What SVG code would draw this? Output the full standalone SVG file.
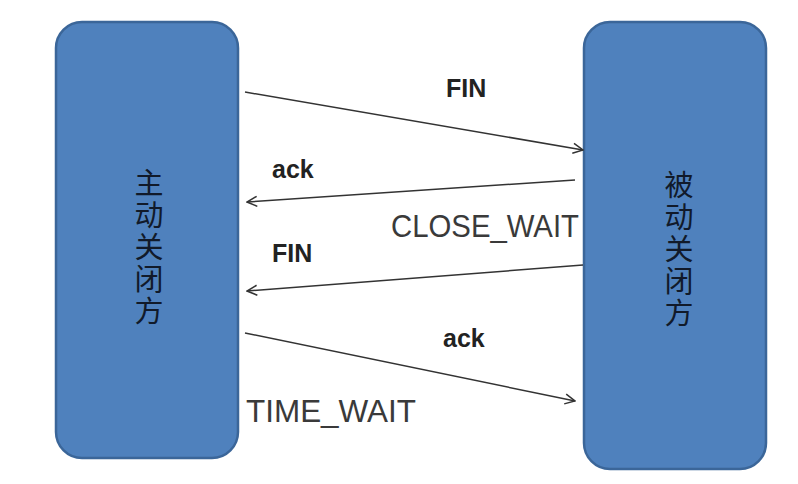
<svg xmlns="http://www.w3.org/2000/svg" width="798" height="484" viewBox="0 0 798 484">
<style>
.box{fill:#4F81BD;stroke:#3B6699;stroke-width:2.5}
.cjk{font-family:"Noto Sans CJK SC","Noto Sans",sans-serif;font-size:29px;fill:#111a2a;text-anchor:middle;writing-mode:vertical-rl;letter-spacing:3px}
.lbl{font-family:"Liberation Sans",Arial,sans-serif;font-weight:bold;font-size:25px;fill:#222}
.st{font-family:"Liberation Sans",Arial,sans-serif;font-size:31px;fill:#3a3a3a}
.ln{stroke:#333;stroke-width:1.5;fill:none;marker-end:url(#ah)}
</style>
<defs>
<marker id="ah" viewBox="0 0 12 12" refX="11" refY="6" markerWidth="12" markerHeight="12" markerUnits="userSpaceOnUse" orient="auto">
<path d="M1,1 L11,6 L1,11" fill="none" stroke="#333" stroke-width="1.5"/>
</marker>
</defs>
<rect width="798" height="484" fill="#fff"/>
<g id="active">
<rect class="box" x="56" y="22" width="182" height="436" rx="26"/>
<text class="cjk" x="149" y="248">主动关闭方</text>
</g>
<g id="passive">
<rect class="box" x="584" y="22" width="182" height="447" rx="26"/>
<text class="cjk" x="679" y="250">被动关闭方</text>
</g>
<g id="connectors">
<line class="ln" x1="245" y1="92" x2="583" y2="150"/>
<line class="ln" x1="575" y1="180" x2="247" y2="202"/>
<line class="ln" x1="583" y1="265" x2="247" y2="291"/>
<line class="ln" x1="245" y1="333" x2="575" y2="401"/>
</g>
<g id="labels">
<text class="lbl" x="446" y="97">FIN</text>
<text class="lbl" x="272" y="178">ack</text>
<text class="lbl" x="272" y="262">FIN</text>
<text class="lbl" x="443" y="347">ack</text>
<text class="st" x="391" y="237" textLength="188" lengthAdjust="spacingAndGlyphs">CLOSE_WAIT</text>
<text class="st" x="246" y="422" textLength="170" lengthAdjust="spacingAndGlyphs">TIME_WAIT</text>
</g>
</svg>
